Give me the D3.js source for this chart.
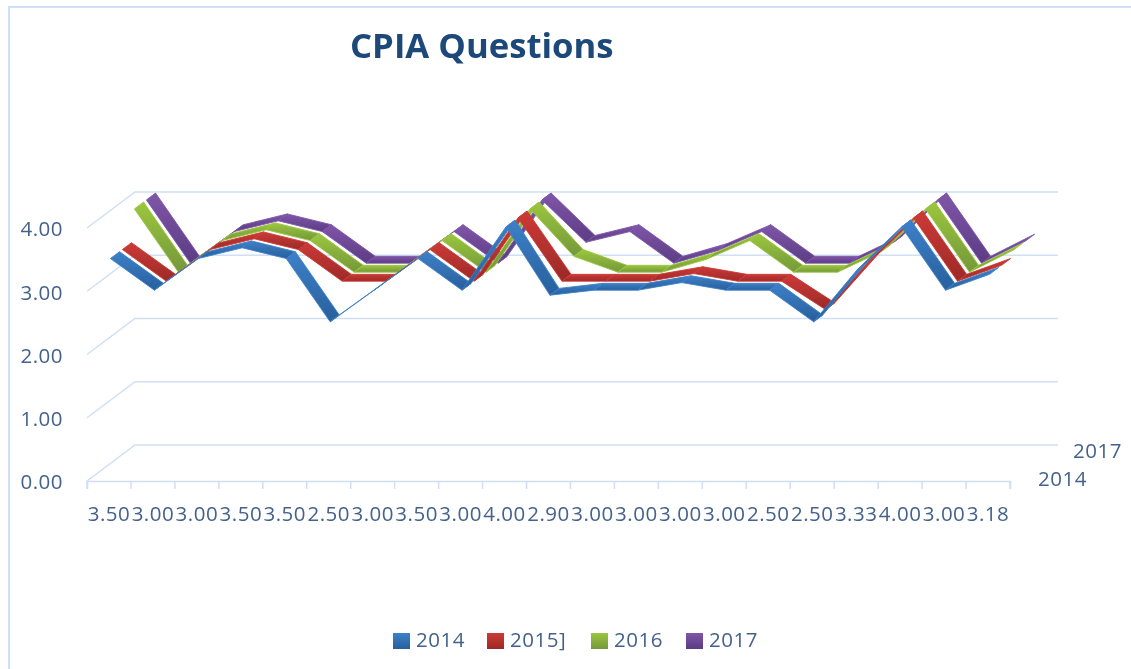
<!DOCTYPE html>
<html><head><meta charset="utf-8">
<script src="https://cdn.jsdelivr.net/npm/d3@7/dist/d3.min.js"></script>
<style>html,body{margin:0;padding:0;background:#fff}svg{display:block}text{font-family:"Open Sans",sans-serif}</style>
</head><body><div id="c"></div>
<script>
const title = "CPIA Questions";
const categories = ["3.50","3.00","3.00","3.50","3.50","2.50","3.00","3.50","3.00","4.00","2.90","3.00","3.00","3.00","3.00","2.50","2.50","3.33","4.00","3.00","3.18"];
const seriesNames = ["2014","2015","2016","2017"];
const legendLabels = ["2014","2015]","2016","2017"];
const depthLabels = ["2014","2017"];
const yTicks = [0,1,2,3,4];
const v2014 = [3.5,3,3.5,3.67,3.5,2.5,3,3.5,3,4,2.92,3,3,3.12,3,3,2.5,3.33,4,3,3.25];
const v2015 = [3.5,3,3.5,3.67,3.5,3,3,3.5,3,4,3,3,3,3.12,3,3,2.55,3.33,4,3,3.25];
const v2016 = [4,3,3.5,3.67,3.5,3,3,3.5,3,4,3.25,3,3,3.2,3.5,3,3,3.33,4,3,3.35];
const v2017 = [4,3,3.5,3.67,3.5,3,3,3.5,3,4,3.33,3.5,3,3.2,3.5,3,3,3.33,4,3,3.35];
const seriesValues = [v2014,v2015,v2016,v2017];
const colorsLight = ["#3d80c8","#cc3a36","#9bc63e","#7f56a8"];
const colorsDark = ["#28609c","#9c2a28","#74983a","#5c3c84"];
const gridColor = "#cfdff5", textColor = "#44628c";

const W=1131,H=669;
const svg=d3.select("#c").append("svg").attr("width",W).attr("height",H);
const defs=svg.append("defs");
defs.append("filter").attr("id","soft").attr("x",0).attr("y",0).attr("width",1).attr("height",1)
  .append("feGaussianBlur").attr("stdDeviation",0.55);
seriesNames.forEach((s,i)=>{
  const g=defs.append("linearGradient").attr("id","g"+i).attr("x1",0).attr("x2",0).attr("y1",0).attr("y2",1);
  g.append("stop").attr("offset","0%").attr("stop-color",colorsLight[i]);
  g.append("stop").attr("offset","100%").attr("stop-color",colorsDark[i]);
});
const root=svg.append("g").attr("filter","url(#soft)");
root.append("rect").attr("width",W).attr("height",H).attr("fill","#fff");

const labelStyle=sel=>sel.attr("fill",textColor).attr("font-size",20.5).attr("letter-spacing",0.5).attr("font-family",'"Open Sans",sans-serif');

// frame
root.append("path").attr("d",`M9,${H}V7H${W}`).attr("fill","none").attr("stroke",gridColor).attr("stroke-width",2);

// scales
const plotL=87,plotR=1010,base=481,top4=228;
const x=d3.scaleBand().domain(d3.range(categories.length)).range([plotL,plotR]);
const y=d3.scaleLinear().domain([0,4]).range([base,top4]);
const depthX=d3.scaleLinear().domain([0,1]).range([0,48]);
const depthY=d3.scaleLinear().domain([0,1]).range([0,-36]);
const depth=d3.scaleBand().domain(seriesNames).range([0,1]);
const halfDepth=0.095;
const px=(i,s,dz=0)=>x(i)+x.bandwidth()/2+depthX(depth(s)+depth.bandwidth()/2+dz);
const py=(v,s,dz=0)=>y(v)+depthY(depth(s)+depth.bandwidth()/2+dz);

// walls
const wall=root.append("g").attr("fill","none").attr("stroke",gridColor).attr("stroke-width",1.5);
yTicks.forEach(t=>{
  wall.append("path").attr("d",d3.line()([[plotL,y(t)],[plotL+depthX(1),y(t)+depthY(1)],[plotR+depthX(1),y(t)+depthY(1)]]));
});

// axes
const xAxis=d3.axisBottom(x).tickSizeOuter(0).tickSize(8).tickPadding(17).tickFormat(i=>categories[i]);
const gx=root.append("g").attr("transform",`translate(0,${base})`).call(xAxis);
gx.select(".domain").attr("stroke",gridColor).attr("stroke-width",1.5);
gx.selectAll(".tick line").attr("stroke",gridColor).attr("stroke-width",1.5)
  .attr("transform",`translate(${-x.bandwidth()/2},0)`);
gx.append("line").attr("x1",plotR).attr("x2",plotR).attr("y1",0).attr("y2",8).attr("stroke",gridColor).attr("stroke-width",1.5);
gx.selectAll("text").call(labelStyle);

const yAxis=d3.axisLeft(y).tickValues(yTicks).tickSize(0).tickPadding(24).tickFormat(d3.format(".2f"));
const gy=root.append("g").attr("transform",`translate(${plotL},0)`).call(yAxis);
gy.select(".domain").remove();
gy.selectAll("text").call(labelStyle).attr("dy","0.38em");

// depth axis labels
root.append("text").text(depthLabels[1]).attr("x",1073).attr("y",458).call(labelStyle);
root.append("text").text(depthLabels[0]).attr("x",1038).attr("y",486).call(labelStyle);

// ribbons, back to front
d3.range(seriesNames.length).reverse().forEach(k=>{
  const s=seriesNames[k], vals=seriesValues[k];
  const g=root.append("g");
  d3.pairs(d3.range(vals.length)).forEach(([a,b])=>{
    const pts=[[px(a,s,-halfDepth),py(vals[a],s,-halfDepth)],[px(a,s,halfDepth),py(vals[a],s,halfDepth)],
               [px(b,s,halfDepth),py(vals[b],s,halfDepth)],[px(b,s,-halfDepth),py(vals[b],s,-halfDepth)]];
    g.append("path").attr("d",d3.line()(pts)+"Z").attr("fill",`url(#g${k})`)
      .attr("stroke",colorsLight[k]).attr("stroke-width",0.9).attr("stroke-linejoin","round");
  });
});

// title
root.append("text").text(title).attr("x",350).attr("y",58).attr("fill","#1f4a7a").attr("font-size",34.7).attr("font-weight",700);

// legend
const legendX=d3.scaleOrdinal().domain(legendLabels).range([393,487,591,686]);
legendLabels.forEach((l,i)=>{
  root.append("rect").attr("x",legendX(l)).attr("y",633).attr("width",17).attr("height",16).attr("fill",`url(#g${i})`);
  root.append("text").text(l).attr("x",legendX(l)+23).attr("y",647).call(labelStyle);
});
</script></body></html>
